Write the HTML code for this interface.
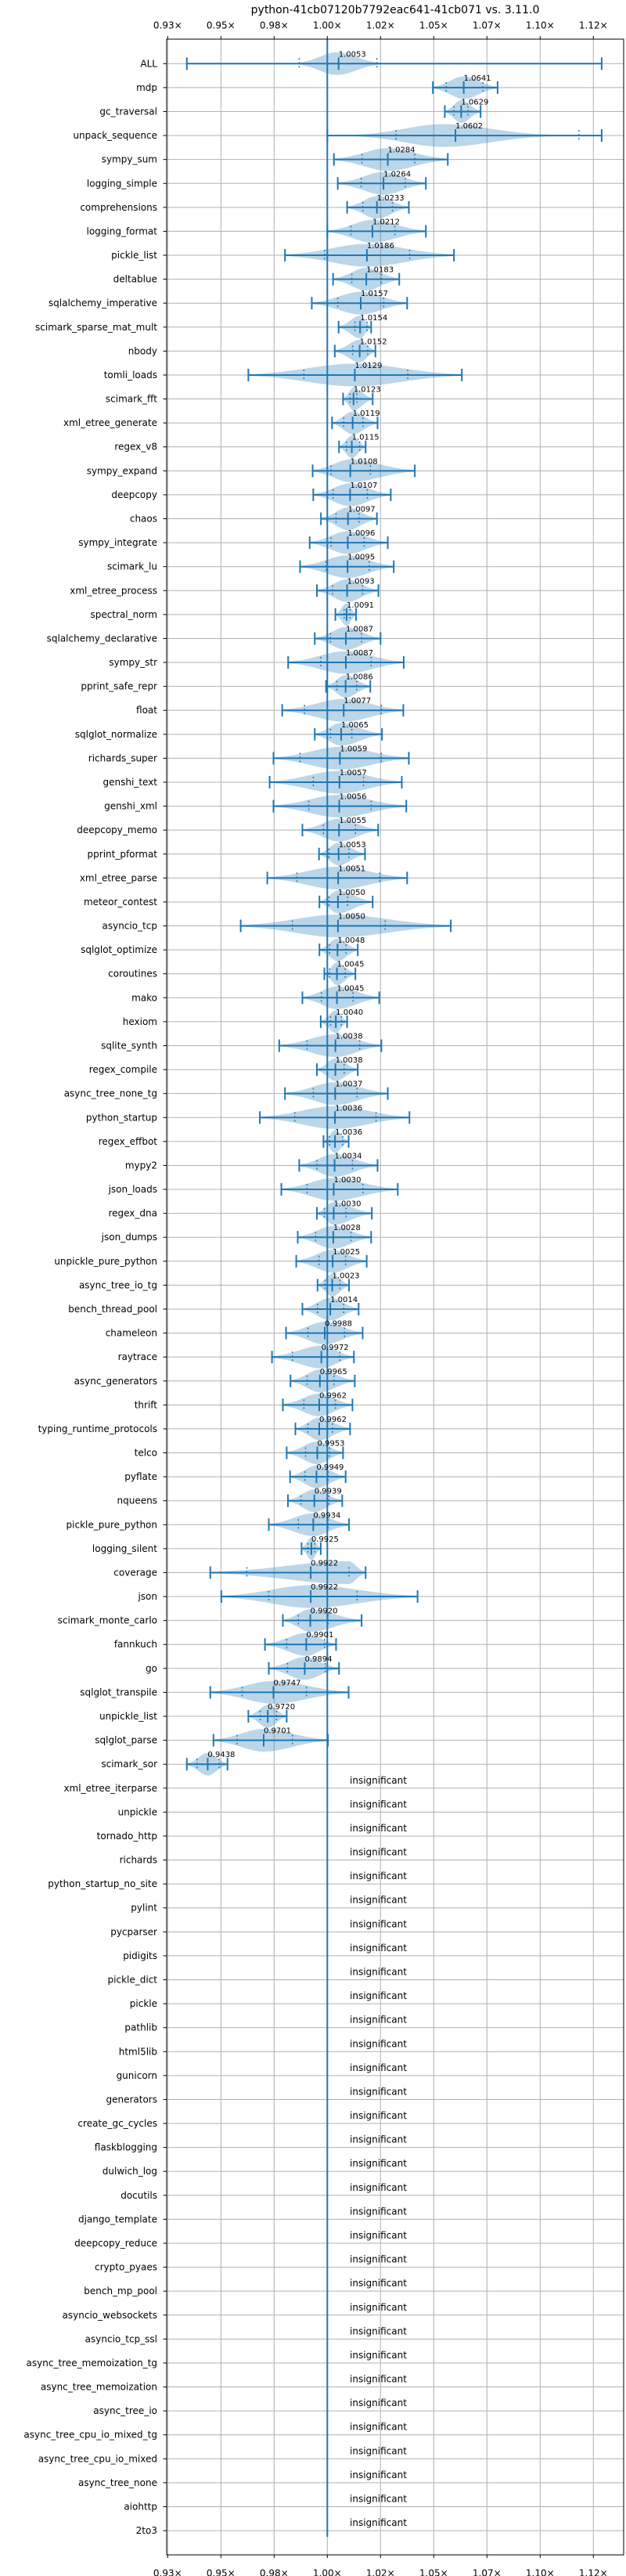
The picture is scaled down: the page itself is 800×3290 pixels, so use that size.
<!DOCTYPE html>
<html><head><meta charset="utf-8"><style>
html,body{margin:0;padding:0;background:#fff;}
svg{display:block;font-family:"DejaVu Sans","Liberation Sans",sans-serif;}
</style></head><body>
<svg id="chart" width="800" height="3290" xmlns="http://www.w3.org/2000/svg">
<text x="505" y="17" font-size="14" text-anchor="middle" fill="#000">python-41cb07120b7792eac641-41cb071 vs. 3.11.0</text>
<g id="grid"></g><g id="marks"></g><g id="axes"></g>
</svg>
<script>
const names=["ALL","mdp","gc_traversal","unpack_sequence","sympy_sum","logging_simple","comprehensions","logging_format","pickle_list","deltablue","sqlalchemy_imperative","scimark_sparse_mat_mult","nbody","tomli_loads","scimark_fft","xml_etree_generate","regex_v8","sympy_expand","deepcopy","chaos","sympy_integrate","scimark_lu","xml_etree_process","spectral_norm","sqlalchemy_declarative","sympy_str","pprint_safe_repr","float","sqlglot_normalize","richards_super","genshi_text","genshi_xml","deepcopy_memo","pprint_pformat","xml_etree_parse","meteor_contest","asyncio_tcp","sqlglot_optimize","coroutines","mako","hexiom","sqlite_synth","regex_compile","async_tree_none_tg","python_startup","regex_effbot","mypy2","json_loads","regex_dna","json_dumps","unpickle_pure_python","async_tree_io_tg","bench_thread_pool","chameleon","raytrace","async_generators","thrift","typing_runtime_protocols","telco","pyflate","nqueens","pickle_pure_python","logging_silent","coverage","json","scimark_monte_carlo","fannkuch","go","sqlglot_transpile","unpickle_list","sqlglot_parse","scimark_sor","xml_etree_iterparse","unpickle","tornado_http","richards","python_startup_no_site","pylint","pycparser","pidigits","pickle_dict","pickle","pathlib","html5lib","gunicorn","generators","create_gc_cycles","flaskblogging","dulwich_log","docutils","django_template","deepcopy_reduce","crypto_pyaes","bench_mp_pool","asyncio_websockets","asyncio_tcp_ssl","async_tree_memoization_tg","async_tree_memoization","async_tree_io","async_tree_cpu_io_mixed_tg","async_tree_cpu_io_mixed","async_tree_none","aiohttp","2to3"];
const medians=[1.0053,1.0641,1.0629,1.0602,1.0284,1.0264,1.0233,1.0212,1.0186,1.0183,1.0157,1.0154,1.0152,1.0129,1.0123,1.0119,1.0115,1.0108,1.0107,1.0097,1.0096,1.0095,1.0093,1.0091,1.0087,1.0087,1.0086,1.0077,1.0065,1.0059,1.0057,1.0056,1.0055,1.0053,1.0051,1.0050,1.0050,1.0048,1.0045,1.0045,1.0040,1.0038,1.0038,1.0037,1.0036,1.0036,1.0034,1.0030,1.0030,1.0028,1.0025,1.0023,1.0014,0.9988,0.9972,0.9965,0.9962,0.9962,0.9953,0.9949,0.9939,0.9934,0.9925,0.9922,0.9922,0.9920,0.9901,0.9894,0.9747,0.9720,0.9701,0.9438];
const mins=[0.934,1.0496,1.0552,1.0,1.0031,1.0049,1.0093,1.0,0.9801,1.0027,0.9927,1.0053,1.0035,0.9629,1.0074,1.0022,1.0055,0.9931,0.9934,0.997,0.9917,0.9872,0.9951,1.0038,0.9941,0.9816,0.9994,0.9788,0.9941,0.9747,0.9729,0.9747,0.9883,0.9961,0.9718,0.9963,0.9593,0.9963,0.9986,0.9883,0.9969,0.9774,0.9951,0.9801,0.9683,0.9982,0.9868,0.9784,0.9951,0.9861,0.9854,0.9954,0.9883,0.9806,0.974,0.9827,0.9791,0.985,0.9809,0.9825,0.9815,0.9725,0.9879,0.945,0.9502,0.9791,0.9707,0.9725,0.945,0.9629,0.9465,0.934];
const maxs=[1.1289,1.080,1.072,1.1289,1.0566,1.0463,1.0383,1.0463,1.0595,1.0338,1.0375,1.0206,1.0226,1.0632,1.0213,1.0236,1.018,1.0411,1.0298,1.0233,1.0284,1.0312,1.024,1.0135,1.025,1.0359,1.0202,1.0357,1.0257,1.0383,1.035,1.0371,1.0239,1.0177,1.0375,1.0213,1.058,1.0143,1.0132,1.0244,1.0093,1.0254,1.0143,1.0284,1.0386,1.01,1.0236,1.0331,1.0209,1.0206,1.0185,1.0102,1.0147,1.0166,1.0125,1.0129,1.0118,1.0107,1.0074,1.0086,1.007,1.0102,0.9969,1.018,1.0424,1.0161,1.0041,1.0055,1.01,0.9809,1.0003,0.9531];
const q1s=[0.9868,1.0559,1.0595,1.0323,1.0163,1.0159,1.0167,1.0111,0.9987,1.0115,1.0049,1.013,1.0119,0.989,1.0107,1.0077,1.009,1.0018,1.0027,1.0041,1.0018,0.9994,1.0025,1.0079,1.0015,0.9969,1.0045,0.9893,1.0015,0.9872,0.9934,0.9913,0.9982,1.0008,0.9857,1.0008,0.9836,1.0011,1.0011,0.9972,1.0015,0.9905,1.0,0.9934,0.9847,1.0011,0.9951,0.9905,0.9986,0.9945,0.9961,0.9989,0.9954,0.9909,0.9836,0.9905,0.989,0.9909,0.9898,0.9895,0.9876,0.9864,0.9909,0.9622,0.9725,0.9864,0.9809,0.9813,0.96,0.9685,0.9576,0.9388];
const q3s=[1.0233,1.0731,1.0661,1.1182,1.0411,1.0366,1.0306,1.0317,1.0387,1.0254,1.0265,1.0187,1.019,1.0378,1.0139,1.0167,1.0152,1.0202,1.0188,1.0149,1.0173,1.0197,1.0166,1.0107,1.0161,1.0206,1.0138,1.0254,1.0115,1.0254,1.017,1.0206,1.0132,1.0102,1.0246,1.0095,1.0272,1.0088,1.0084,1.0121,1.0066,1.0152,1.0079,1.014,1.0229,1.0072,1.0118,1.0167,1.0088,1.0111,1.0086,1.0059,1.0077,1.0081,1.0059,1.0031,1.0038,1.0024,1.001,1.0004,1.0007,1.0004,0.9941,1.0102,1.014,1.0004,0.9987,0.999,0.9902,0.9761,0.9836,0.9492];
const modes={0:1.0044,3:1.0545,63:1.01};
const sigmaL={0:0.008,3:0.018};
const sigmaR={0:0.009,3:0.022};
const ticks=[0.925,0.95,0.975,1.0,1.025,1.05,1.075,1.1,1.125];
const tickLabels=["0.93×","0.95×","0.98×","1.00×","1.02×","1.05×","1.07×","1.10×","1.12×"];

const NS="http://www.w3.org/2000/svg";
const L=213,R=797,T=50,B=3263;
const xs=v=>418.3+(v-1)*2720;
const ys=i=>81.3+i*30.59;
function mk(tag,attrs,parent,txt){const e=document.createElementNS(NS,tag);for(const k in attrs)e.setAttribute(k,attrs[k]);if(txt!==undefined)e.textContent=txt;parent.appendChild(e);return e;}
const grid=document.getElementById('grid'),marks=document.getElementById('marks'),axes=document.getElementById('axes');
const BLUE="#1f77b4";
ticks.forEach((t,k)=>{
  const x=xs(t);
  const g=mk('line',{x1:x,x2:x,y1:T,y2:B,stroke:'#b0b0b0','stroke-width':1},grid);
  
  
  [[T-4,T,33],[B,B+4,3287]].forEach(([a,b,ty],j)=>{
    const tk=mk('line',{x1:x,x2:x,y1:a,y2:b,stroke:'#000','stroke-width':1},axes);
    
    
    const tl=mk('text',{x:x,y:ty,'font-size':12,'text-anchor':'middle','dominant-baseline':'middle',fill:'#000'},axes,tickLabels[k]);
    
    
  });
});
names.forEach((n,i)=>{
  const y=ys(i);
  const g=mk('line',{x1:L,x2:R,y1:y,y2:y,stroke:'#b0b0b0','stroke-width':1},grid);
  
  
  const tk=mk('line',{x1:L-4.5,x2:L,y1:y,y2:y,stroke:'#000','stroke-width':1},axes);
  
  
  const lb=mk('text',{x:201,y:y,'font-size':12,'text-anchor':'end','dominant-baseline':'central',fill:'#000'},axes,n);
  
  
});
const bl=mk('line',{x1:xs(1),x2:xs(1),y1:T,y2:3240,stroke:BLUE,'stroke-width':2},marks);


const W=14.5;
medians.forEach((m,i)=>{
  const y=ys(i),mn=mins[i],mx=maxs[i],md=(modes[i]!==undefined?modes[i]:m);
  const sl=sigmaL[i]!==undefined?sigmaL[i]:Math.max((md-mn)/2.3,0.0004);
  const sr=sigmaR[i]!==undefined?sigmaR[i]:Math.max((mx-md)/2.3,0.0004);
  const N=80;let top=[],bot=[];
  for(let k=0;k<=N;k++){const v=mn+(mx-mn)*k/N;const s=v<md?sl:sr;const w=Math.max(W*Math.exp(-0.5*((v-md)/s)**2),0.8);top.push(xs(v).toFixed(1)+','+(y-w).toFixed(1));bot.unshift(xs(v).toFixed(1)+','+(y+w).toFixed(1));}
  const p=mk('polygon',{points:top.concat(bot).join(' '),fill:BLUE,'fill-opacity':0.3},marks);
  
  
  const w=mk('line',{x1:xs(mn),x2:xs(mx),y1:y,y2:y,stroke:BLUE,'stroke-width':2},marks);
  
  
  [mn,mx,m].forEach(v=>{const c=mk('line',{x1:xs(v),x2:xs(v),y1:y-8,y2:y+8,stroke:BLUE,'stroke-width':2},marks);
    
    });
  [q1s[i],q3s[i]].forEach(v=>{const q=mk('line',{x1:xs(v),x2:xs(v),y1:y-7,y2:y+7,stroke:BLUE,'stroke-width':1.5,'stroke-dasharray':'2,3'},marks);
    
    });
  const t=mk('text',{x:xs(m),y:y-9,'font-size':10,fill:'#000'},marks,m.toFixed(4));
  
  
});
for(let i=medians.length;i<names.length;i++){
  const t=mk('text',{x:447,y:ys(i)-6,'font-size':12,fill:'#000'},marks,'insignificant');
  
  
}
const fr=mk('rect',{x:L,y:T,width:R-L,height:B-T,fill:'none',stroke:'#000','stroke-width':1},axes);


</script>
</body></html>
